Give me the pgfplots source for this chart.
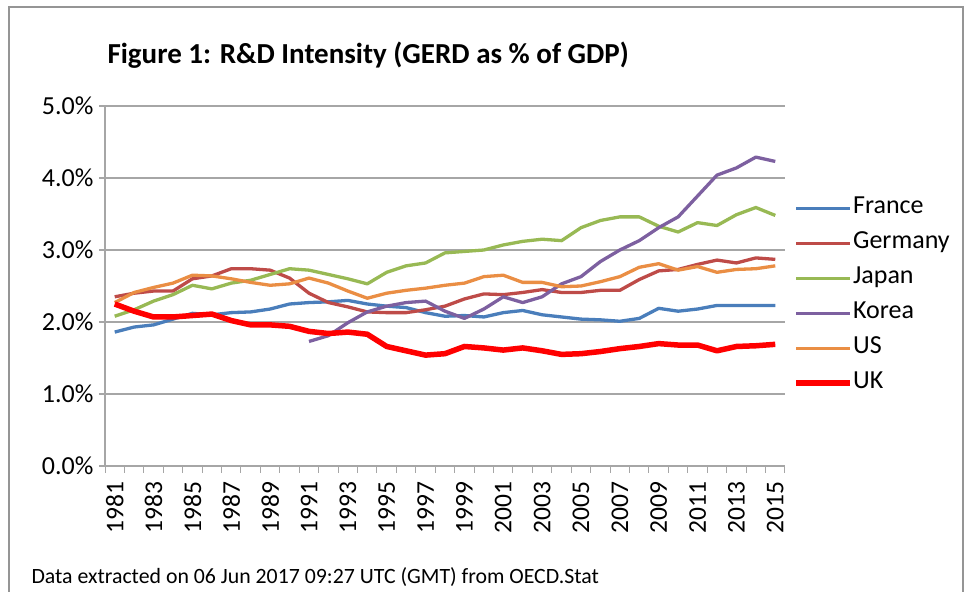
\documentclass[border=0pt]{standalone}
\usepackage{fontspec}
\setmainfont{Carlito}
\usepackage{pgfplots}
\pgfplotsset{compat=1.18}
\definecolor{cFrance}{HTML}{4A7EBB}
\definecolor{cGermany}{HTML}{BE4B48}
\definecolor{cJapan}{HTML}{98B954}
\definecolor{cKorea}{HTML}{7D60A0}
\definecolor{cUS}{HTML}{EA8E44}
\definecolor{cUK}{HTML}{FF0000}
\definecolor{cGrid}{HTML}{A6A6A6}
\begin{document}
\begin{tikzpicture}
\useasboundingbox (0,0) rectangle (965bp,592bp);
\draw[cGrid!90!black, line width=1.5bp] (9bp,0) -- (9bp,585bp) -- (963bp,585bp) -- (963bp,0);
\node[anchor=west, font=\fontsize{29bp}{34bp}\selectfont\bfseries] at (104bp,537bp) {Figure 1: R\&D Intensity (GERD as \% of GDP)};
\node[anchor=west, font=\fontsize{21.8bp}{26bp}\selectfont] at (28bp,15bp) {Data extracted on 06 Jun 2017 09:27 UTC (GMT) from OECD.Stat};
\begin{axis}[
  at={(105bp,126bp)}, anchor=south west,
  scale only axis, width=680bp, height=360bp,
  xmin=1980.5, xmax=2015.5, ymin=0, ymax=5,
  axis x line*=bottom, axis y line*=left,
  axis line style={cGrid, line width=1.2bp},
  xtick={1981,1983,...,2015},
  minor xtick={1980.5,1981.5,...,2015.5},
  ytick={0,1,2,3,4,5},
  ymajorgrids, grid style={cGrid, line width=1.2bp},
  tick align=outside,
  major tick length=6bp, minor tick length=7bp,
  major x tick style={draw=none},
  minor x tick style={cGrid, line width=1bp},
  y tick style={cGrid, line width=1.2bp},
  /pgf/number format/assume math mode=true,
  xticklabel style={rotate=90, anchor=east, font=\fontsize{25.5bp}{30bp}\selectfont, xshift=-6bp},
  xticklabel={\pgfmathprintnumber[set thousands separator={},fixed]{\tick}},
  yticklabel style={font=\fontsize{26bp}{30bp}\selectfont, xshift=-2bp},
  yticklabel={\pgfmathprintnumber[fixed,fixed zerofill,precision=1]{\tick}\%},
  legend style={at={(1.008,0.75)}, anchor=north west, draw=none, fill=none,
    font=\fontsize{26bp}{30bp}\selectfont, row sep=15bp,
    nodes={inner sep=0pt, text height=15bp, text depth=5bp, anchor=west}},
  legend cell align=left,
  legend image code/.code={\draw[#1] (0bp,0bp) -- (54bp,0bp);},
  every axis plot/.append style={line join=round},
]
\addplot[cFrance, line width=3.3bp] coordinates {
(1981,1.86)(1982,1.93)(1983,1.96)(1984,2.04)(1985,2.12)(1986,2.10)(1987,2.13)(1988,2.14)(1989,2.18)(1990,2.25)
(1991,2.27)(1992,2.28)(1993,2.30)(1994,2.25)(1995,2.22)(1996,2.20)(1997,2.13)(1998,2.08)(1999,2.09)(2000,2.07)
(2001,2.13)(2002,2.16)(2003,2.10)(2004,2.07)(2005,2.04)(2006,2.03)(2007,2.01)(2008,2.05)(2009,2.19)(2010,2.15)
(2011,2.18)(2012,2.23)(2013,2.23)(2014,2.23)(2015,2.23)};
\addlegendentry{France}
\addplot[cGermany, line width=3.3bp] coordinates {
(1981,2.35)(1982,2.40)(1983,2.43)(1984,2.43)(1985,2.60)(1986,2.64)(1987,2.74)(1988,2.74)(1989,2.72)(1990,2.61)
(1991,2.40)(1992,2.27)(1993,2.21)(1994,2.14)(1995,2.13)(1996,2.13)(1997,2.17)(1998,2.22)(1999,2.32)(2000,2.39)
(2001,2.38)(2002,2.41)(2003,2.45)(2004,2.41)(2005,2.41)(2006,2.44)(2007,2.44)(2008,2.59)(2009,2.71)(2010,2.73)
(2011,2.80)(2012,2.86)(2013,2.82)(2014,2.89)(2015,2.87)};
\addlegendentry{Germany}
\addplot[cJapan, line width=3.3bp] coordinates {
(1981,2.08)(1982,2.17)(1983,2.29)(1984,2.38)(1985,2.51)(1986,2.46)(1987,2.54)(1988,2.58)(1989,2.66)(1990,2.74)
(1991,2.72)(1992,2.66)(1993,2.60)(1994,2.53)(1995,2.69)(1996,2.78)(1997,2.82)(1998,2.96)(1999,2.98)(2000,3.00)
(2001,3.07)(2002,3.12)(2003,3.15)(2004,3.13)(2005,3.31)(2006,3.41)(2007,3.46)(2008,3.46)(2009,3.33)(2010,3.25)
(2011,3.38)(2012,3.34)(2013,3.49)(2014,3.59)(2015,3.48)};
\addlegendentry{Japan}
\addplot[cKorea, line width=3.3bp] coordinates {
(1991,1.73)(1992,1.81)(1993,1.99)(1994,2.14)(1995,2.22)(1996,2.27)(1997,2.29)(1998,2.15)(1999,2.05)(2000,2.18)
(2001,2.35)(2002,2.27)(2003,2.35)(2004,2.53)(2005,2.63)(2006,2.84)(2007,3.00)(2008,3.13)(2009,3.31)(2010,3.46)
(2011,3.75)(2012,4.04)(2013,4.14)(2014,4.29)(2015,4.23)};
\addlegendentry{Korea}
\addplot[cUS, line width=3.3bp] coordinates {
(1981,2.27)(1982,2.41)(1983,2.48)(1984,2.54)(1985,2.65)(1986,2.64)(1987,2.60)(1988,2.55)(1989,2.51)(1990,2.53)
(1991,2.61)(1992,2.54)(1993,2.43)(1994,2.33)(1995,2.40)(1996,2.44)(1997,2.47)(1998,2.51)(1999,2.54)(2000,2.63)
(2001,2.65)(2002,2.55)(2003,2.55)(2004,2.49)(2005,2.50)(2006,2.56)(2007,2.63)(2008,2.76)(2009,2.81)(2010,2.72)
(2011,2.77)(2012,2.69)(2013,2.73)(2014,2.74)(2015,2.78)};
\addlegendentry{US}
\addplot[cUK, line width=5.5bp] coordinates {
(1981,2.25)(1982,2.15)(1983,2.07)(1984,2.07)(1985,2.09)(1986,2.11)(1987,2.02)(1988,1.96)(1989,1.96)(1990,1.94)
(1991,1.87)(1992,1.84)(1993,1.86)(1994,1.83)(1995,1.66)(1996,1.60)(1997,1.54)(1998,1.56)(1999,1.66)(2000,1.64)
(2001,1.61)(2002,1.64)(2003,1.60)(2004,1.55)(2005,1.56)(2006,1.59)(2007,1.63)(2008,1.66)(2009,1.70)(2010,1.68)
(2011,1.68)(2012,1.60)(2013,1.66)(2014,1.67)(2015,1.69)};
\addlegendentry{UK}
\end{axis}
\end{tikzpicture}
\end{document}
